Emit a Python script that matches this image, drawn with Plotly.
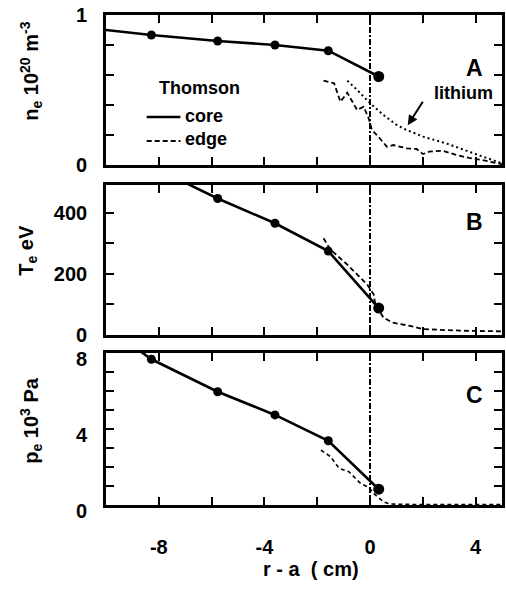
import plotly.graph_objects as go

# ---------------- data ----------------
x_core = [-10.8, -8.28, -5.77, -3.6, -1.58, 0.33]
ne_core = [0.915, 0.867, 0.827, 0.80, 0.762, 0.59]
te_core = [657, 551, 446, 365, 274, 88]
pe_core = [10.2, 7.67, 5.96, 4.74, 3.38, 0.83]
core_marker_size = [9, 9, 9, 9, 9, 11]

x_ne_edge = [-1.76, -1.36, -1.12, -0.86, -0.49, -0.24, -0.05, 0.07, 0.26, 0.64, 0.89,
             1.39, 1.76, 2.01, 2.25, 2.76, 3.26, 3.75, 4.26, 4.76, 5.0]
ne_edge = [0.562, 0.545, 0.422, 0.482, 0.367, 0.389, 0.311, 0.233, 0.20, 0.122, 0.133,
           0.111, 0.107, 0.073, 0.089, 0.095, 0.067, 0.047, 0.033, 0.011, 0.005]

x_li = [-0.86, -0.55, 0.01, 0.51, 1.01, 1.39, 2.01, 2.89, 3.75, 4.5, 5.0]
ne_li = [0.562, 0.511, 0.411, 0.333, 0.267, 0.233, 0.189, 0.144, 0.089, 0.044, 0.011]

x_te_edge = [-1.76, -1.5, -0.86, -0.11, 0.14, 0.2, 0.51, 0.83, 1.51, 2.01, 3.51, 5.0]
te_edge = [316, 279, 230, 165, 133, 100, 57, 41, 30, 19, 14, 12]

x_pe_edge = [-1.86, -1.49, -1.17, -0.8, -0.36, -0.05, 0.2, 0.51, 0.76, 1.5, 3.0, 5.0]
pe_edge = [2.89, 2.54, 1.93, 1.75, 1.14, 0.93, 0.53, 0.17, 0.05, 0.03, 0.03, 0.03]

x_tickvals = [-8, -6, -4, -2, 0, 2, 4]
x_ticktext = ["-8", "", "-4", "", "0", "", "4"]
ne_tickvals = [0, 0.2, 0.4, 0.6, 0.8, 1.0]
ne_ticktext = ["0", "", "", "", "", "1"]
te_tickvals = [0, 100, 200, 300, 400]
te_ticktext = ["0", "", "200", "", "400"]
pe_tickvals = [0, 1, 2, 3, 4, 5, 6, 7, 8]
pe_ticktext = ["0", "", "", "", "4", "", "", "", "8"]

FONT = "Liberation Sans"
BLACK = "#000000"

fig = go.Figure()

panels = [
    ("x", "y", ne_core, [(x_ne_edge, ne_edge, "5px,3px", 1.8), (x_li, ne_li, "2px,3px", 2)]),
    ("x2", "y2", te_core, [(x_te_edge, te_edge, "5px,3px", 1.8)]),
    ("x3", "y3", pe_core, [(x_pe_edge, pe_edge, "4px,3px", 1.6)]),
]
for xa, ya, ycore, extras in panels:
    fig.add_trace(go.Scatter(x=x_core, y=ycore, xaxis=xa, yaxis=ya, mode="lines+markers",
                             line=dict(color=BLACK, width=2.6),
                             marker=dict(color=BLACK, size=core_marker_size, opacity=1,
                                         line=dict(color=BLACK, width=0)),
                             showlegend=False))
    for xe, ye, dash, w in extras:
        fig.add_trace(go.Scatter(x=xe, y=ye, xaxis=xa, yaxis=ya, mode="lines",
                                 line=dict(color=BLACK, width=w, dash=dash),
                                 showlegend=False))

tickfont = dict(family=FONT, size=20, color=BLACK, weight="bold")
common_x = dict(range=[-10, 5], showline=True, linewidth=2.6, linecolor=BLACK, mirror="allticks",
                ticks="inside", ticklen=8, tickwidth=2, tickcolor=BLACK,
                tickvals=x_tickvals, ticktext=x_ticktext, showgrid=False, zeroline=False,
                tickfont=tickfont)
common_y = dict(showline=True, linewidth=2.6, linecolor=BLACK, mirror="allticks",
                ticks="inside", ticklen=8, tickwidth=2, tickcolor=BLACK,
                showgrid=False, zeroline=False, tickfont=tickfont, ticklabelstandoff=12)

dA = [1 - 150 / 490, 1.0]
dB = [1 - 320 / 490, 1 - 170 / 490]
dC = [0.0, 1 - 338 / 490]

fig.update_layout(
    width=506, height=592,
    margin=dict(l=106, r=1, t=15, b=87),
    paper_bgcolor="white", plot_bgcolor="white",
    font=dict(family=FONT, color=BLACK),
    xaxis=dict(common_x, anchor="y", showticklabels=False),
    xaxis2=dict(common_x, anchor="y2", showticklabels=False, matches="x"),
    xaxis3=dict(common_x, anchor="y3", showticklabels=True, ticklabelstandoff=22),
    yaxis=dict(common_y, domain=dA, anchor="x", range=[0, 1], tickvals=ne_tickvals, ticktext=ne_ticktext),
    yaxis2=dict(common_y, domain=dB, anchor="x2", range=[0, 490], tickvals=te_tickvals, ticktext=te_ticktext),
    yaxis3=dict(common_y, domain=dC, anchor="x3", range=[0, 8], tickvals=pe_tickvals, ticktext=pe_ticktext,
                ticklabelshift=6),
)

# vertical dash-dot line at r - a = 0 in each panel
for xa, ya in [("x", "y"), ("x2", "y2"), ("x3", "y3")]:
    fig.add_shape(type="line", xref=xa, yref=f"{ya} domain", x0=0, x1=0, y0=0, y1=1,
                  line=dict(color=BLACK, width=2, dash="6px,2px,2px,2px"))

# legend drawn manually
lfont = dict(family=FONT, size=18, color=BLACK)
fig.add_annotation(xref="paper", yref="paper", x=(157 - 106) / 399, y=1 - (88 - 15) / 490,
                   xanchor="left", yanchor="middle", showarrow=False,
                   text="<b>Thomson</b>", font=lfont)
fig.add_annotation(xref="paper", yref="paper", x=(184 - 106) / 399, y=1 - (116 - 15) / 490,
                   xanchor="left", yanchor="middle", showarrow=False,
                   text="<b>core</b>", font=lfont)
fig.add_annotation(xref="paper", yref="paper", x=(184 - 106) / 399, y=1 - (139 - 15) / 490,
                   xanchor="left", yanchor="middle", showarrow=False,
                   text="<b>edge</b>", font=lfont)
fig.add_shape(type="line", xref="paper", yref="paper",
              x0=(147 - 106) / 399, x1=(181 - 106) / 399,
              y0=1 - (117 - 15) / 490, y1=1 - (117 - 15) / 490,
              line=dict(color=BLACK, width=2.6))
fig.add_shape(type="line", xref="paper", yref="paper",
              x0=(147 - 106) / 399, x1=(181 - 106) / 399,
              y0=1 - (141 - 15) / 490, y1=1 - (141 - 15) / 490,
              line=dict(color=BLACK, width=1.8, dash="5px,3px"))

# panel letters
for letter, xa, ya, yv in [("A", "x", "y", 0.65), ("B", "x2", "y2", 370), ("C", "x3", "y3", 5.8)]:
    fig.add_annotation(xref=xa, yref=ya, x=3.95, y=yv,
                       showarrow=False, text=f"<b>{letter}</b>",
                       font=dict(family=FONT, size=23, color=BLACK))

# lithium label and arrow
fig.add_annotation(xref="x", yref="y", x=3.55, y=0.48, showarrow=False,
                   text="<b>lithium</b>", font=dict(family=FONT, size=18, color=BLACK))
fig.add_annotation(xref="x", yref="y", x=1.43, y=0.265, ax=16, ay=-25,
                   showarrow=True, arrowhead=2, arrowsize=1, arrowwidth=2, arrowcolor=BLACK,
                   text="")

# y-axis titles
ytitle_font = dict(family=FONT, size=20, color=BLACK)
fig.add_annotation(xref="paper", yref="paper", x=-0.19, y=1 - (71 - 15) / 490,
                   xanchor="center", yanchor="middle", showarrow=False, textangle=-90,
                   text="<b>n<sub>e</sub> 10<sup>20</sup> m<sup>-3</sup></b>", font=ytitle_font)
fig.add_annotation(xref="paper", yref="paper", x=-0.2, y=1 - (250 - 15) / 490,
                   xanchor="center", yanchor="middle", showarrow=False, textangle=-90,
                   text="<b>T<sub>e</sub> eV</b>", font=ytitle_font)
fig.add_annotation(xref="paper", yref="paper", x=-0.19, y=1 - (420 - 15) / 490,
                   xanchor="center", yanchor="middle", showarrow=False, textangle=-90,
                   text="<b>p<sub>e</sub> 10<sup>3</sup> Pa</b>", font=ytitle_font)

# x-axis title
fig.add_annotation(xref="paper", yref="paper", x=(313 - 106) / 399, y=-(569 - 505) / 490,
                   xanchor="center", yanchor="middle", showarrow=False,
                   text="<b>r - a  ( cm)</b>", font=dict(family=FONT, size=20, color=BLACK))

fig.write_html("out.html")
